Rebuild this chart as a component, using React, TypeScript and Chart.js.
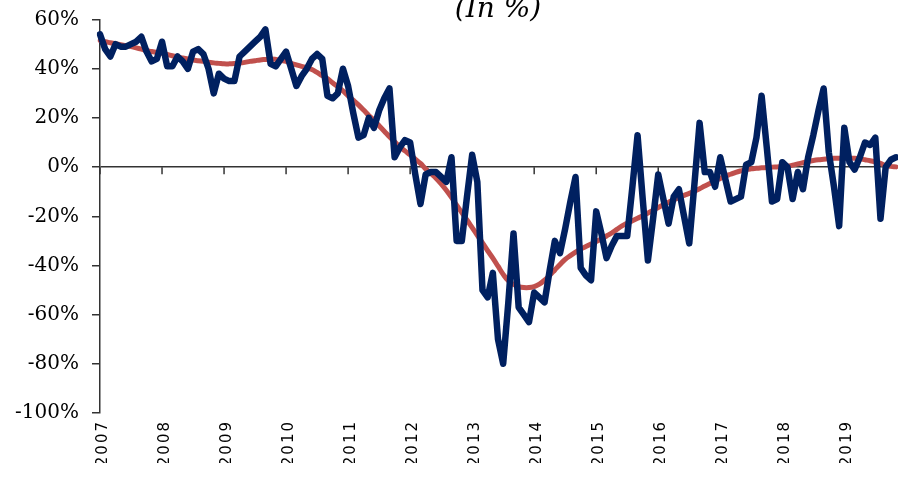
import React, { useEffect, useRef } from 'react';
import { Chart, registerables, CategoryScale } from 'chart.js';

// Year tick labels (monthly data, Jan 2007 – Nov 2019)
const years = [2007, 2008, 2009, 2010, 2011, 2012, 2013, 2014, 2015, 2016, 2017, 2018, 2019];
const monthsInLastYear = 11;

// Monthly year-on-year growth (in %)
const monthlyGrowth = [
  54, 48, 45, 50, 49, 49, 50, 51, 53, 47, 43, 44,
  51, 41, 41, 45, 43, 40, 47, 48, 46, 40, 30, 38,
  36, 35, 35, 45, 47, 49, 51, 53, 56, 42, 41, 44,
  47, 40, 33, 37, 40, 44, 46, 44, 29, 28, 30, 40,
  33, 22, 12, 13, 20, 16, 23, 28, 32, 4, 8, 11,
  10, -3, -15, -3, -2, -2, -4, -6, 4, -30, -30, -12,
  5, -6, -50, -53, -43, -70, -80, -55, -27, -57, -60, -63,
  -51, -53, -55, -42, -30, -35, -25, -14, -4, -41, -44, -46,
  -18, -27, -37, -32, -28, -28, -28, -8, 13, -13, -38, -21,
  -3, -13, -23, -12, -9, -20, -31, -7, 18, -2, -2, -8,
  4, -5, -14, -13, -12, 1, 2, 12, 29, 8, -14, -13,
  2, 0, -13, -2, -9, 4, 13, 23, 32, 6, -8, -24,
  16, 2, -1, 4, 10, 9, 12, -21, 0, 3, 4,
];

// Smoothed trend (in %)
const trend = [
  51.5, 51, 50.6, 50.2, 49.8, 49.4, 49, 48.5, 48, 47.5, 47, 46.7,
  46.3, 45.8, 45.3, 44.8, 44.4, 44, 43.6, 43.3, 43, 42.7, 42.4, 42.2,
  42, 42, 42.1, 42.3, 42.6, 43, 43.3, 43.6, 43.8, 44, 43.8, 43.4,
  43, 42.2, 41.6, 41, 40.5, 39.7, 38.5, 37.2, 36, 34.3, 32.7, 31,
  29, 27.2, 25.3, 23.2, 21, 19, 16.8, 14.6, 12.4, 10.3, 8.3, 6.6,
  5, 3.2, 1.5, -0.7, -2.6, -4.5, -6.8, -9.4, -12.3, -15.5, -18.5, -21.5,
  -24.6, -27.7, -30.8, -34, -37, -40.3, -43.6, -46.2, -47.7, -48.6, -49, -49,
  -48.6, -47.6, -46, -44, -41.8, -39.6, -37.5, -36, -34.6, -33.3, -32.3, -31.3,
  -30.3, -29.2, -28, -26.8, -25.3, -23.9, -22.8, -21.8, -20.8, -19.8, -18.7, -17.5,
  -16.4, -15.3, -14.3, -13.3, -12.4, -11.5, -10.7, -9.8, -8.8, -7.7, -6.7, -5.6,
  -4.6, -3.6, -2.9, -2.1, -1.5, -1.0, -0.7, -0.5, -0.3, -0.2, 0, 0.1,
  0.2, 0.4, 0.8, 1.3, 1.8, 2.3, 2.7, 3, 3.2, 3.4, 3.6, 3.6,
  3.6, 3.6, 3.6, 3.4, 3, 2.6, 2.1, 1.5, 0.6, 0.3, 0.1,
];

const yMin = -100;
const yMax = 60;
const yStep = 20;
const titleText = '(In %)';

const monthLabels: string[] = [];
years.forEach((yr, i) => {
  const n = i === years.length - 1 ? monthsInLastYear : 12;
  for (let m = 1; m <= n; m++) monthLabels.push(`${yr}-${String(m).padStart(2, '0')}`);
});

class SpacedCategoryScale extends CategoryScale {
  static id = 'spacedCategory';
  static defaults = CategoryScale.defaults;
  drawLabels(chartArea: any) {
    const ctx = this.ctx as any;
    ctx.save();
    ctx.letterSpacing = '2px';
    ctx.translate(3, 0);
    super.drawLabels(chartArea);
    ctx.restore();
  }
}

Chart.register(...registerables, SpacedCategoryScale);

const AXIS = '#333333';

const yearTicksPlugin = {
  id: 'yearTicks',
  beforeDatasetsDraw(chart: any) {
    const { ctx, scales } = chart;
    const x = scales.x;
    const y = scales.y;
    const y0 = y.getPixelForValue(0);
    ctx.save();
    ctx.strokeStyle = AXIS;
    ctx.lineWidth = 1.5;
    monthLabels.forEach((l, i) => {
      if (l.endsWith('-01')) {
        const px = x.getPixelForValue(i);
        ctx.beginPath();
        ctx.moveTo(px, y0);
        ctx.lineTo(px, y0 + 7);
        ctx.stroke();
      }
    });
    ctx.restore();
  },
};

export default function App() {
  const ref = useRef<HTMLCanvasElement>(null);
  useEffect(() => {
    if (!ref.current) return;
    const chart = new Chart(ref.current, {
      type: 'line',
      data: {
        labels: monthLabels,
        datasets: [
          {
            label: 'Monthly',
            data: monthlyGrowth,
            borderColor: '#002060',
            borderWidth: 6.5,
            pointRadius: 0,
            tension: 0,
            borderJoinStyle: 'round',
            borderCapStyle: 'round',
          },
          {
            label: 'Trend',
            data: trend,
            borderColor: '#C0504D',
            borderWidth: 5,
            pointRadius: 0,
            tension: 0.4,
            borderCapStyle: 'round',
          },
        ],
      },
      options: {
        animation: false,
        responsive: false,
        layout: { padding: { left: 15, right: 2, top: 0, bottom: 15 } },
        plugins: {
          legend: { display: false },
          tooltip: { enabled: false },
          title: {
            display: true,
            text: titleText,
            fullSize: false,
            color: '#000',
            font: { family: 'DejaVu Serif', size: 28, style: 'italic', weight: 'normal', lineHeight: 0.7 },
            padding: { top: 10, bottom: 0 },
          },
        },
        scales: {
          x: {
            type: 'spacedCategory' as any,
            offset: false,
            grid: { display: false, drawTicks: false },
            border: { display: false },
            afterFit: (s: any) => {
              s.height = 50;
              s.paddingLeft = 0;
              s.paddingRight = 0;
            },
            ticks: {
              autoSkip: false,
              minRotation: 90,
              maxRotation: 90,
              padding: 7,
              color: '#000',
              font: { family: 'DejaVu Sans', size: 15 },
              callback: (_v: any, i: number) =>
                monthLabels[i].endsWith('-01') ? monthLabels[i].slice(0, 4) : '',
            },
          },
          y: {
            min: yMin,
            max: yMax,
            afterFit: (s: any) => {
              s.width = 85;
              s.paddingTop = 0;
              s.paddingBottom = 0;
            },
            ticks: {
              stepSize: yStep,
              padding: 13,
              color: '#000',
              font: { family: 'DejaVu Serif', size: 20 },
              callback: (v: any) => `${v}%`,
            },
            grid: {
              color: (c: any) => (c.tick && c.tick.value === 0 ? AXIS : 'rgba(0,0,0,0)'),
              tickColor: AXIS,
              tickLength: 8,
              lineWidth: 1.5,
            },
            border: { display: true, color: AXIS, width: 1.5 },
          },
        },
      },
      plugins: [yearTicksPlugin],
    });
    return () => chart.destroy();
  }, []);

  return (
    <div style={{ position: 'fixed', left: 0, top: 0, width: 898, height: 478, overflow: 'hidden', background: '#fff' }}>
      <div style={{ position: 'absolute', left: 0, top: -10, width: 898, height: 488 }}>
        <canvas ref={ref} width={898} height={488} style={{ display: 'block' }} />
      </div>
    </div>
  );
}
